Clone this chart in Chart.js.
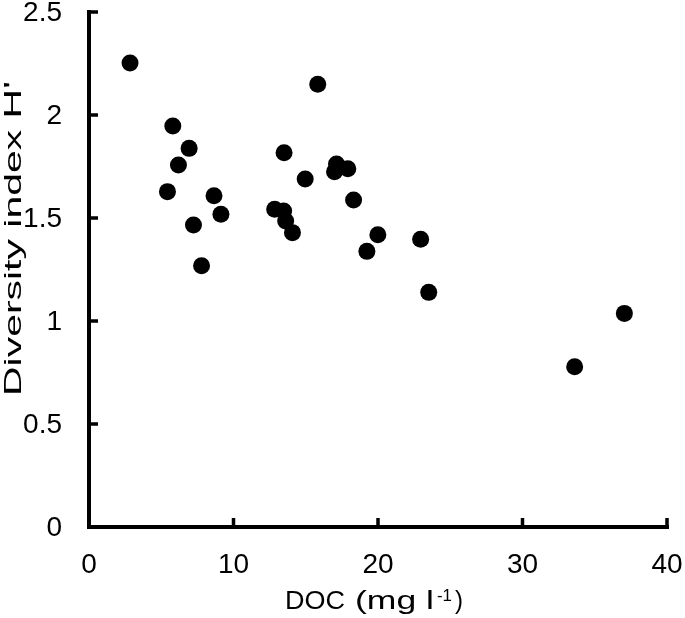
<!DOCTYPE html>
<html>
<head>
<meta charset="utf-8">
<script src="https://cdn.jsdelivr.net/npm/chart.js@4/dist/chart.umd.min.js"></script>
<style>
html,body{margin:0;padding:0;background:#fff;}
#wrap{width:685px;height:618px;}
</style>
</head>
<body>
<div id="wrap"><canvas id="c" width="685" height="618"></canvas></div>
<script>
// Data
const docValues = [2.84, 5.80, 6.93, 6.19, 5.43, 8.65, 9.13, 7.23, 7.79, 15.83, 13.50, 17.13, 16.99, 17.91, 14.96, 18.31, 12.85, 13.47, 13.61, 14.08, 19.99, 19.23, 22.95, 23.51, 37.05, 33.61];
const diversityValues = [2.252, 1.947, 1.838, 1.757, 1.628, 1.608, 1.518, 1.466, 1.268, 2.149, 1.817, 1.762, 1.725, 1.739, 1.689, 1.587, 1.542, 1.534, 1.485, 1.429, 1.419, 1.338, 1.397, 1.139, 1.037, 0.778];
const xTickValues = [0, 10, 20, 30, 40];
const xTickLabels = ["0", "10", "20", "30", "40"];
const yTickValues = [0, 0.5, 1, 1.5, 2, 2.5];
const yTickLabels = ["0", "0.5", "1", "1.5", "2", "2.5"];
const xTitleParts = ["DOC", "(mg l", "-1", ")"];
const yTitle = "Diversity index H'";

const FONT = "'Liberation Sans', Arial, sans-serif";

function fillFit(ctx, text, x, y, width) {
  const w = ctx.measureText(text).width;
  ctx.save();
  ctx.translate(x, y);
  ctx.scale(width / w, 1);
  ctx.fillText(text, 0, 0);
  ctx.restore();
}

const axesPlugin = {
  id: 'axesPlugin',
  afterDraw(chart) {
    const ctx = chart.ctx;
    const xs = chart.scales.x, ys = chart.scales.y;
    const x0 = xs.getPixelForValue(0), x1 = xs.getPixelForValue(40);
    const y0 = ys.getPixelForValue(0), y1 = ys.getPixelForValue(2.5);
    const lw = 4;
    ctx.save();
    ctx.strokeStyle = '#000';
    ctx.lineWidth = lw;
    ctx.lineCap = 'butt';
    // axis lines
    ctx.beginPath();
    ctx.moveTo(x0, y1 - lw / 2);
    ctx.lineTo(x0, y0 + lw / 2);
    ctx.moveTo(x0 - lw / 2, y0);
    ctx.lineTo(x1 + lw / 2, y0);
    ctx.stroke();
    // inward ticks
    ctx.lineWidth = 3.5;
    ctx.beginPath();
    yTickValues.forEach(v => {
      const p = ys.getPixelForValue(v);
      ctx.moveTo(x0, p);
      ctx.lineTo(x0 + 9, p);
    });
    xTickValues.forEach(v => {
      const p = xs.getPixelForValue(v);
      ctx.moveTo(p, y0);
      ctx.lineTo(p, y0 - 9);
    });
    ctx.stroke();
    // tick labels
    ctx.fillStyle = '#000';
    ctx.font = '28px ' + FONT;
    ctx.textAlign = 'right';
    ctx.textBaseline = 'middle';
    yTickValues.forEach((v, i) => {
      ctx.fillText(yTickLabels[i], x0 - 27, ys.getPixelForValue(v) + 1);
    });
    ctx.textAlign = 'center';
    ctx.textBaseline = 'alphabetic';
    xTickValues.forEach((v, i) => {
      ctx.fillText(xTickLabels[i], xs.getPixelForValue(v), y0 + 46);
    });
    // x title
    ctx.textAlign = 'left';
    const by = 609;
    ctx.font = '26px ' + FONT;
    fillFit(ctx, xTitleParts[0], 285, by, 60);
    fillFit(ctx, xTitleParts[1], 355, by, 79);
    ctx.font = '17px ' + FONT;
    fillFit(ctx, xTitleParts[2], 437, by - 8, 15);
    ctx.font = '26px ' + FONT;
    fillFit(ctx, xTitleParts[3], 455, by, 8);
    // y title (rotated, stretched along its length)
    ctx.font = '24px ' + FONT;
    const w = ctx.measureText(yTitle).width;
    ctx.translate(20.7, 238.5);
    ctx.rotate(-Math.PI / 2);
    ctx.scale(315 / w, 1);
    ctx.textAlign = 'center';
    ctx.textBaseline = 'alphabetic';
    ctx.fillText(yTitle, 0, 0);
    ctx.restore();
  }
};

new Chart(document.getElementById('c'), {
  type: 'scatter',
  data: {
    datasets: [{
      data: docValues.map((x, i) => ({x: x, y: diversityValues[i]})),
      backgroundColor: '#000',
      borderWidth: 0,
      pointRadius: 8.5,
      pointHoverRadius: 8.5
    }]
  },
  options: {
    responsive: false,
    animation: false,
    events: [],
    layout: {padding: {left: 89, right: 18, top: 12, bottom: 91}},
    plugins: {legend: {display: false}, tooltip: {enabled: false}},
    scales: {
      x: {type: 'linear', min: 0, max: 40, display: false, ticks: {stepSize: 10}},
      y: {type: 'linear', min: 0, max: 2.5, display: false, ticks: {stepSize: 0.5}}
    }
  },
  plugins: [axesPlugin]
});
</script>
</body>
</html>
